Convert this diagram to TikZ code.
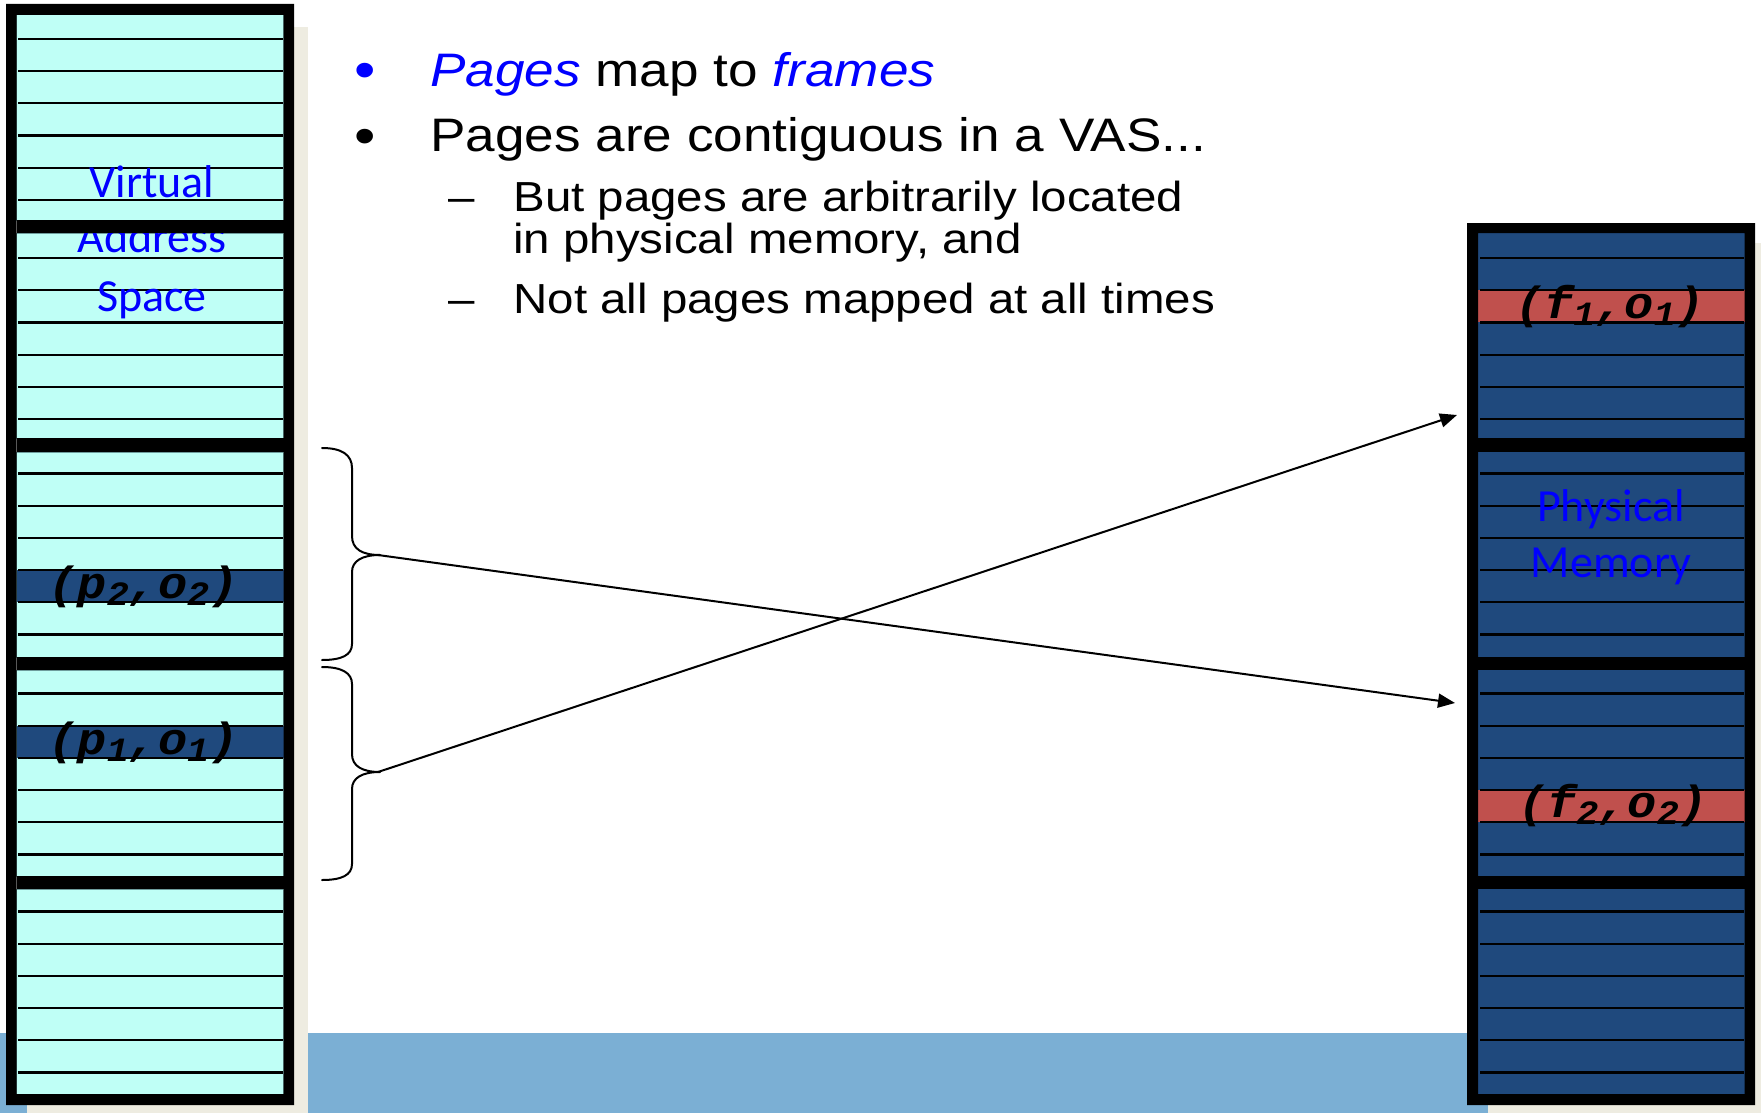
\documentclass[tikz,border=0pt]{standalone}
\usepackage{fontspec}
\usetikzlibrary{arrows.meta}

% fonts: slide text, column captions, address pairs
\newfontfamily\slidefont{Liberation Sans}[FakeStretch=1.13]
\newfontfamily\captionfont{Carlito}
\newfontfamily\addrfont{Liberation Mono}[FakeStretch=1.08]

\definecolor{vascyan}{HTML}{BFFFF6}
\definecolor{pmblue}{HTML}{1F497D}
\definecolor{hotred}{HTML}{C0504D}
\definecolor{footerblue}{HTML}{7BAFD4}
\definecolor{shadowtan}{HTML}{EEECE1}
\definecolor{pureblue}{HTML}{0000FF}
\definecolor{celledge}{HTML}{6E9C9C}

% lowered subscript digit for the address pairs
\newcommand\subdig[1]{\raisebox{-3.5pt}{\fontsize{17}{17}\selectfont #1}}

\tikzset{
  gridline/.style={line width=1.1pt, black},
  frameblack/.style={fill=black},
  bulletline/.style={anchor=base west, inner sep=0pt, font=\slidefont\fontsize{23.5}{28}\selectfont},
  subline/.style={anchor=base west, inner sep=0pt, font=\slidefont\fontsize{21}{25}\selectfont},
  marker/.style={anchor=base, inner sep=0pt},
  colcaption/.style={anchor=base, inner sep=0pt, text=pureblue, font=\captionfont\fontsize{23}{28}\selectfont},
  addrpair/.style={anchor=base, inner sep=0pt, font=\addrfont\bfseries\itshape\fontsize{22.5}{22}\selectfont},
  bracepath/.style={line width=1pt, line cap=round, line join=round},
  maparrow/.style={-{Triangle[length=8.5pt,width=7pt]}, line width=1pt}
}

\begin{document}
\begin{tikzpicture}[x=0.5pt,y=-0.5pt]
\useasboundingbox (0,0) rectangle (1761,1113);
\fill[white] (0,0) rectangle (1761,1113);

% footer strip and column shadows
\fill[footerblue] (0,1033) rectangle (1488,1113);
\fill[shadowtan] (27,27) rectangle (308,1113);
\fill[shadowtan] (1488,243) rectangle (1761,1113);

% ---------- virtual address space column ----------
\foreach \sy/\sb in {15/220, 233/438, 452/657, 670/876, 889/1094}{
  \fill[vascyan, draw=celledge, line width=0.5pt] (16.5,\sy) rectangle (283.5,\sb);
}
% highlighted pages
\fill[pmblue] (16.5,570.1) rectangle (283.5,602.3);
\fill[pmblue] (16.5,725.7) rectangle (283.5,757.9);
% page rows
\foreach \sy/\so in {15/24, 233/25, 452/21.5, 670/23.5, 889/22.5}{
  \foreach \k in {0,...,5}{
    \pgfmathsetmacro\ly{\sy+\so+32.2*\k}
    \draw[gridline] (18,\ly) -- (283,\ly);
  }
}
\node[colcaption] (vasA) at (152,197) {Virtual};
\node[colcaption] (vasB) at (152,252) {Address};
\node[colcaption] (vasC) at (152,311) {Space};
% frame and section dividers
\fill[frameblack, even odd rule] (6,4) rectangle (294,1105) (16.5,15) rectangle (283.5,1094);
\foreach \da/\db in {220/233, 438/452, 657/670, 876/889}{
  \fill[frameblack] (16.5,\da) rectangle (283.5,\db);
}
\node[addrpair] (pB) at (143.5,598.5) {(p\subdig{2},o\subdig{2})};
\node[addrpair] (pA) at (143.5,754) {(p\subdig{1},o\subdig{1})};

% ---------- physical memory column ----------
\foreach \sy/\sb in {233/438, 452/657, 670/876, 889/1094}{
  \fill[pmblue] (1478,\sy) rectangle (1744.5,\sb);
}
% frames holding the pages
\fill[hotred] (1478,290.2) rectangle (1744.5,322.4);
\fill[hotred] (1478,790.1) rectangle (1744.5,822.3);
\foreach \sy/\so in {233/25, 452/21.5, 670/23.5, 889/22.5}{
  \foreach \k in {0,...,5}{
    \pgfmathsetmacro\ly{\sy+\so+32.2*\k}
    \draw[gridline] (1480,\ly) -- (1744,\ly);
  }
}
\node[colcaption] (pmA) at (1611,521.5) {Physical};
\node[colcaption] (pmB) at (1611,577.5) {Memory};
\fill[frameblack, even odd rule] (1467,223) rectangle (1755,1105) (1478,233) rectangle (1744.5,1094);
\foreach \da/\db in {438/452, 657/670, 876/889}{
  \fill[frameblack] (1478,\da) rectangle (1744.5,\db);
}
\node[addrpair] (fA) at (1610,318.5) {(f\subdig{1},o\subdig{1})};
\node[addrpair] (fB) at (1613,817) {(f\subdig{2},o\subdig{2})};

% ---------- braces grouping the two pages ----------
\draw[bracepath] (322,448) .. controls (342,448) and (352,455) .. (352,468)
  -- (352,536) .. controls (352,549) and (362,555) .. (380,555)
  .. controls (362,555) and (352,561) .. (352,572)
  -- (352,644) .. controls (352,655) and (342,660) .. (322,660);
\draw[bracepath] (322,667) .. controls (342,667) and (352,673) .. (352,684)
  -- (352,754) .. controls (352,766) and (362,772) .. (380,772)
  .. controls (362,772) and (352,778) .. (352,789)
  -- (352,864) .. controls (352,875) and (342,880) .. (322,880);
\coordinate (tipA) at (378,555);
\coordinate (tipB) at (378,772);
\coordinate (frameInA) at (1457,415);
\coordinate (frameInB) at (1455,703);

% ---------- page-to-frame mapping ----------
\draw[maparrow] (tipA) -- (frameInB);
\draw[maparrow] (tipB) -- (frameInA);

% ---------- bullet text ----------
\node[marker, text=pureblue, font=\slidefont\fontsize{27}{28}\selectfont] (dotA) at (365,89) {•};
\node[bulletline] (lineA) at (430,86.5) {\textcolor{pureblue}{\itshape Pages} map to \textcolor{pureblue}{\itshape frames}};
\node[marker, font=\slidefont\fontsize{27}{28}\selectfont] (dotB) at (365,155) {•};
\node[bulletline] (lineB) at (430,151) {Pages are contiguous in a VAS...};
\node[marker, font=\slidefont\fontsize{21}{25}\selectfont] (dashA) at (462,211.7) {–};
\node[subline] (subA1) at (513,211.7) {But pages are arbitrarily located};
\node[subline] (subA2) at (513,253.3) {in physical memory, and};
\node[marker, font=\slidefont\fontsize{21}{25}\selectfont] (dashB) at (462,313.3) {–};
\node[subline] (subB) at (513,313.3) {Not all pages mapped at all times};
\end{tikzpicture}
\end{document}
